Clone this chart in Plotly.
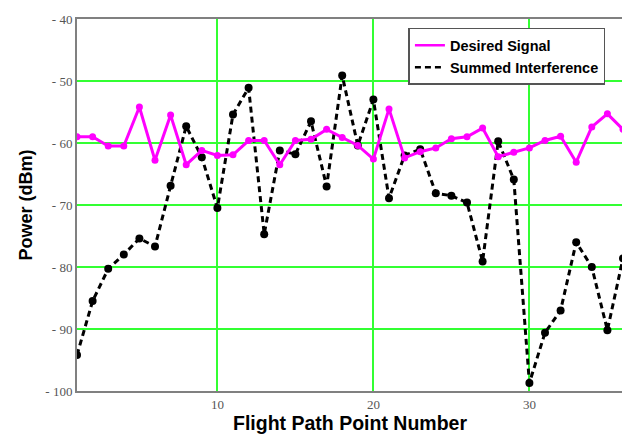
import plotly.graph_objects as go

points = list(range(1, 37))
desired = [-59.0, -59.0, -60.5, -60.5, -54.2, -62.8, -55.5, -63.5, -61.2, -62.0,
           -61.9, -59.6, -59.6, -63.5, -59.6, -59.4, -57.8, -59.1, -60.4, -62.6,
           -54.5, -62.4, -61.4, -60.8, -59.3, -59.0, -57.6, -62.2, -61.5, -60.8,
           -59.6, -58.9, -63.1, -57.4, -55.3, -57.8]
interference = [-94.2, -85.5, -80.3, -78.0, -75.4, -76.7, -66.9, -57.3, -62.3, -70.5,
                -55.4, -51.1, -74.7, -61.2, -61.8, -56.5, -67.0, -49.1, -60.4, -53.0,
                -68.9, -62.0, -61.0, -68.1, -68.5, -69.6, -79.1, -59.7, -65.9, -98.7,
                -90.6, -87.0, -76.0, -80.0, -90.2, -78.6]
y_ticks = [-40, -50, -60, -70, -80, -90, -100]
y_ticklabels = ["- 40", "- 50", "- 60", "- 70", "- 80", "- 90", "- 100"]
x_ticks = [10, 20, 30]

fig = go.Figure()
fig.add_trace(go.Scatter(x=points, y=interference, mode="lines+markers",
                         line=dict(color="black", width=3, dash="6px,4px"),
                         marker=dict(color="black", size=8), showlegend=False))
fig.add_trace(go.Scatter(x=points, y=desired, mode="lines+markers",
                         line=dict(color="#ff00ff", width=3),
                         marker=dict(color="#ff00ff", size=7), showlegend=False))
fig.add_trace(go.Scatter(x=[None], y=[None], mode="lines", name="<b>Desired Signal</b>",
                         line=dict(color="#ff00ff", width=2.5)))
fig.add_trace(go.Scatter(x=[None], y=[None], mode="lines", name="<b>Summed Interference</b>",
                         line=dict(color="black", width=2.5, dash="6px,4px")))

fig.update_layout(
    width=622, height=426,
    margin=dict(l=69, r=7, t=4, b=43),
    paper_bgcolor="white", plot_bgcolor="white",
    showlegend=True,
    legend=dict(x=0.607, y=0.976, xanchor="left", yanchor="top",
                bgcolor="white", bordercolor="#555555", borderwidth=1.5,
                font=dict(family="Arial, Liberation Sans", size=14.5, color="black"),
                tracegroupgap=0, itemwidth=30),
)
fig.update_xaxes(range=[1, 36], tickvals=x_ticks, ticktext=[str(v) for v in x_ticks],
                 showgrid=True, gridcolor="#33ff33", gridwidth=1.5,
                 showline=True, linecolor="#808080", linewidth=2, mirror=True,
                 ticks="", zeroline=False, ticklabeloverflow="allow",
                 tickfont=dict(family="Liberation Serif", size=13, color="#555555"),
                 title=dict(text="<b>Flight Path Point Number</b>", standoff=3,
                            font=dict(family="Arial, Liberation Sans", size=19.5, color="black")))
fig.update_yaxes(range=[-100, -40], tickvals=y_ticks, ticktext=y_ticklabels,
                 showgrid=True, gridcolor="#33ff33", gridwidth=1.5,
                 showline=True, linecolor="#808080", linewidth=2, mirror=True,
                 ticks="", zeroline=False, ticklabeloverflow="allow",
                 tickfont=dict(family="Liberation Serif", size=13, color="#555555"),
                 title=dict(text="<b>Power (dBm)</b>", standoff=8,
                            font=dict(family="Arial, Liberation Sans", size=18, color="black")))

fig.write_html("out.html")
